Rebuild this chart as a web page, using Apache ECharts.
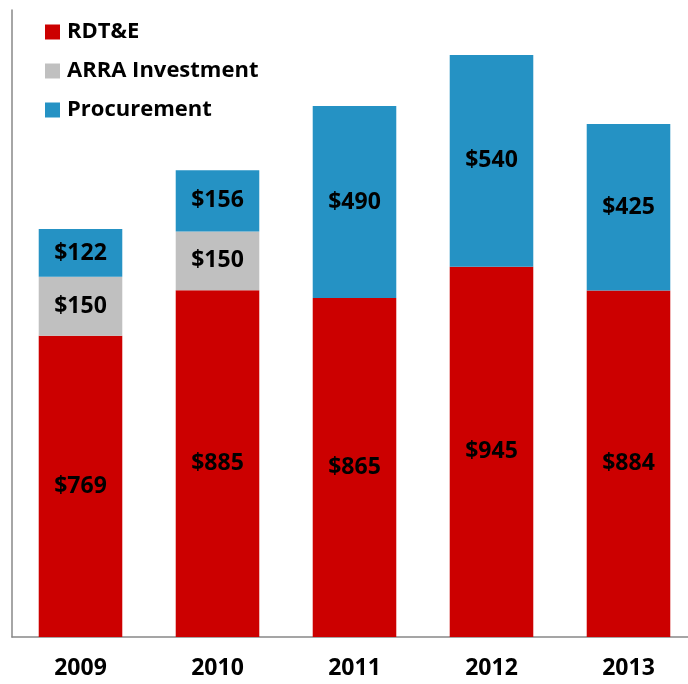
<!DOCTYPE html>
<html lang="en" style="height: 100%">
<head>
  <meta charset="utf-8">
</head>
<body style="height: 100%; margin: 0; overflow: hidden">
  <!-- the plot runs a little past the right edge of the window, as in the original -->
  <div id="container" style="width: 697px; height: 684px"></div>
  <script type="text/javascript" src="https://fastly.jsdelivr.net/npm/echarts@6.0.0/dist/echarts.min.js"></script>
  <script type="text/javascript">
    // data
    var years = ['2009', '2010', '2011', '2012', '2013'];
    var rdte = [769, 885, 865, 945, 884];
    var arra = [150, 150, null, null, null];
    var procurement = [122, 156, 490, 540, 425];

    var fontFamily = '"Open Sans", Lato, sans-serif';

    var myChart = echarts.init(document.getElementById('container'), null, { renderer: 'canvas' });

    function labelFor() {
      return {
        show: true,
        position: 'inside',
        formatter: function (p) { return p.value == null ? '' : '$' + p.value; },
        color: '#000',
        fontWeight: 'bold',
        fontSize: 23,
        fontFamily: fontFamily
      };
    }

    var option = {
      animation: false,
      legend: {
        orient: 'vertical',
        left: 45,
        top: 21,
        padding: 0,
        itemWidth: 15,
        itemHeight: 15,
        itemGap: 17,
        icon: 'rect',
        textStyle: { fontSize: 22, fontWeight: 'bold', color: '#000', fontFamily: fontFamily, padding: [0, 0, 0, 2] },
        data: ['RDT&E', 'ARRA Investment', 'Procurement']
      },
      grid: { left: 12, top: 10, right: 0, bottom: 47 },
      xAxis: {
        type: 'category',
        data: years,
        axisLine: { lineStyle: { color: '#888', width: 1.5 } },
        axisTick: { show: false },
        axisLabel: { margin: 20, fontSize: 23, fontWeight: 'bold', color: '#000', fontFamily: fontFamily }
      },
      yAxis: {
        type: 'value',
        min: 0,
        max: 1600,
        axisLine: { show: true, lineStyle: { color: '#888', width: 1.5 } },
        axisTick: { show: false },
        axisLabel: { show: false },
        splitLine: { show: false }
      },
      series: [
        {
          name: 'RDT&E', type: 'bar', stack: 'total', data: rdte,
          barCategoryGap: '39%',
          itemStyle: { color: '#CC0000' },
          label: labelFor()
        },
        {
          name: 'ARRA Investment', type: 'bar', stack: 'total', data: arra,
          itemStyle: { color: '#C0C0C0' },
          label: labelFor()
        },
        {
          name: 'Procurement', type: 'bar', stack: 'total', data: procurement,
          itemStyle: { color: '#2592C4' },
          label: labelFor()
        }
      ]
    };

    myChart.setOption(option);
  </script>
</body>
</html>
